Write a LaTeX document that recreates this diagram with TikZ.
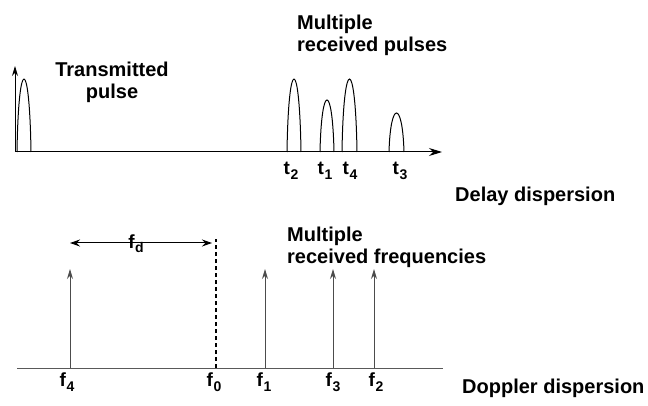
\documentclass[tikz,border=0pt]{standalone}
\usepackage{fontspec}
\setmainfont{Liberation Sans}
\usetikzlibrary{arrows.meta}
\tikzset{
  lbl/.style={font=\fontsize{20}{22}\selectfont\bfseries, inner sep=0pt},
  tck/.style={font=\fontsize{19}{20}\selectfont\bfseries, inner sep=0pt, anchor=base},
  pulse/.style={line width=1pt},
  spike/.style={draw=black!70, line width=1pt, -{Stealth[length=10pt,width=6pt]}},
}
\newcommand{\tlab}[2]{#1\kern0.5pt\raisebox{-5pt}{\fontsize{14}{14}\selectfont #2}}
\begin{document}
\begin{tikzpicture}[x=1pt,y=-1pt]
\useasboundingbox (0,0) rectangle (648,406);
% delay axis
\coordinate (d0) at (15,152);
\coordinate (d1) at (442,152);
\coordinate (tx) at (15,66);
\draw[line width=1pt,-{Stealth[length=13pt,width=8pt]}] (d0) -- (d1);
\draw[line width=1pt,-{Stealth[length=10pt,width=6pt]}] (d0) -- (tx);
\foreach \a/\b/\h in {17/31/79, 287/301/79, 320/334/100, 342/357/79, 389/404/113}
  \draw[pulse] (\a,152) .. controls (\a+1.5,{152-(152-\h)*4/3}) and (\b-1.5,{152-(152-\h)*4/3}) .. (\b,152);
\foreach \x/\i in {291/2, 325/1, 350/4, 400/3}
  \node[tck] (t\i) at (\x,175) {\tlab{t}{\i}};
\node[lbl,align=center,anchor=north] (txlbl) at (112,62) {Transmitted\\pulse};
\node[lbl,align=left,anchor=north west] (rxlbl) at (297,15) {Multiple\\received pulses};
\node[lbl,anchor=base west] (delay) at (455,202) {Delay dispersion};
% doppler axis
\coordinate (a0) at (17,368);
\coordinate (a1) at (443,368);
\draw[draw=black!65,line width=1pt] (a0) -- (a1);
\foreach \x/\i in {70/4, 265/1, 333/3, 374/2}{
  \coordinate (b\i) at (\x,368);
  \coordinate (p\i) at (\x,269);
  \draw[spike] (b\i) -- (p\i);
}
\coordinate (b0) at (216,368);
\coordinate (p0) at (216,239);
\draw[line width=1.2pt,dash pattern=on 4pt off 3pt] (b0) -- (p0);
\foreach \x/\i in {67/4, 214/0, 264/1, 333/3, 376/2}
  \node[tck] (f\i) at (\x,386) {\tlab{f}{\i}};
\coordinate (fa) at (70,243);
\coordinate (fb) at (212,243);
\draw[line width=1pt,{Stealth[length=10pt,width=7pt]}-{Stealth[length=10pt,width=7pt]}] (fa) -- (fb);
\node[tck] (fd) at (136,248) {\tlab{f}{d}};
\node[lbl,align=left,anchor=north west] (rxf) at (287,227) {Multiple\\received frequencies};
\node[lbl,anchor=base west] (doppler) at (462,393) {Doppler dispersion};
\end{tikzpicture}
\end{document}
